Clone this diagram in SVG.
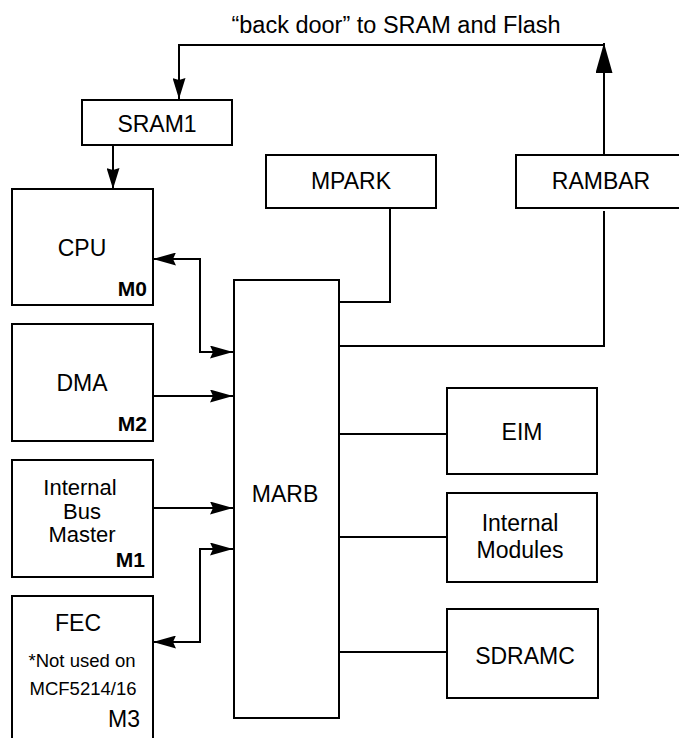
<svg xmlns="http://www.w3.org/2000/svg" width="679" height="738" viewBox="0 0 679 738">
<style>
.box{fill:#fff;stroke:#000;stroke-width:2}
.ln{fill:none;stroke:#000;stroke-width:2}
text{font-family:"Liberation Sans",Arial,Helvetica,sans-serif;font-size:23px;fill:#000}
.c{text-anchor:middle}
.e{text-anchor:end}
.b{font-weight:bold;font-size:21px}
.s{font-size:18.5px}
.m{font-size:22px}
</style>
<defs>
<marker id="ah" markerUnits="userSpaceOnUse" viewBox="0 0 23 13" refX="23" refY="6.5" markerWidth="23" markerHeight="13" orient="auto-start-reverse">
<path d="M0,0 L23,6.5 L0,13 L3,6.5 z" fill="#000"/>
</marker>
<marker id="ahs" markerUnits="userSpaceOnUse" viewBox="0 0 21 13" refX="21" refY="6.5" markerWidth="21" markerHeight="13" orient="auto-start-reverse">
<path d="M0,0 L21,6.5 L0,13 L2,6.5 z" fill="#000"/>
</marker>
<marker id="ahb" markerUnits="userSpaceOnUse" viewBox="0 0 30 17" refX="30" refY="8.5" markerWidth="30" markerHeight="17" orient="auto-start-reverse">
<path d="M0,0 L30,8.5 L0,17 z" fill="#000"/>
</marker>
</defs>

<g id="connectors">
<path class="ln" d="M604,155 V43" marker-end="url(#ahb)"/>
<path class="ln" d="M604,45 H179 V99" marker-end="url(#ahs)"/>
<path class="ln" d="M113,145 V189" marker-end="url(#ahs)"/>
<path class="ln" d="M153,259 H200 V352 H233" marker-start="url(#ah)" marker-end="url(#ah)"/>
<path class="ln" d="M153,396 H233" marker-end="url(#ah)"/>
<path class="ln" d="M153,508 H233" marker-end="url(#ah)"/>
<path class="ln" d="M153,642 H200 V549 H233" marker-start="url(#ah)" marker-end="url(#ah)"/>
<path class="ln" d="M390,208 V302 H339"/>
<path class="ln" d="M604,211 V346 H339"/>
<path class="ln" d="M339,434 H447"/>
<path class="ln" d="M339,537 H447"/>
<path class="ln" d="M339,652 H447"/>
</g>

<text class="c" x="396" y="33" style="font-size:23.5px">“back door” to SRAM and Flash</text>

<g id="sram1"><rect class="box" x="82" y="100" width="150" height="45"/><text class="c" x="157" y="132">SRAM1</text></g>
<g id="mpark"><rect class="box" x="266" y="155" width="170" height="53"/><text class="c" x="351" y="189">MPARK</text></g>
<g id="rambar"><rect class="box" x="516" y="155" width="175" height="53"/><text class="c" x="601" y="189">RAMBAR</text></g>
<g id="cpu"><rect class="box" x="12" y="189" width="141" height="116"/><text class="c" x="82" y="256">CPU</text><text class="e b" x="147" y="296">M0</text></g>
<g id="dma"><rect class="box" x="12" y="324" width="141" height="117"/><text class="c" x="82" y="391">DMA</text><text class="e b" x="147" y="431">M2</text></g>
<g id="ibm"><rect class="box" x="12" y="460" width="141" height="117"/><text class="c m" x="80" y="495">Internal</text><text class="c m" x="82" y="519">Bus</text><text class="c m" x="82" y="542">Master</text><text class="e b" x="145" y="567">M1</text></g>
<g id="fec"><rect class="box" x="12" y="596" width="141" height="160"/><text class="c" x="78" y="631">FEC</text><text class="c s" x="82" y="667">*Not used on</text><text class="c s" x="83" y="695">MCF5214/16</text><text class="e" x="140" y="727">M3</text></g>
<g id="marb"><rect class="box" x="234" y="280" width="105" height="438"/><text class="c" x="285" y="502">MARB</text></g>
<g id="eim"><rect class="box" x="447" y="388" width="150" height="86"/><text class="c" x="522" y="440">EIM</text></g>
<g id="internal-modules"><rect class="box" x="447" y="493" width="150" height="89"/><text class="c" x="520" y="531">Internal</text><text class="c" x="520" y="558">Modules</text></g>
<g id="sdramc"><rect class="box" x="447" y="609" width="151" height="89"/><text class="c" x="525" y="664">SDRAMC</text></g>
</svg>
